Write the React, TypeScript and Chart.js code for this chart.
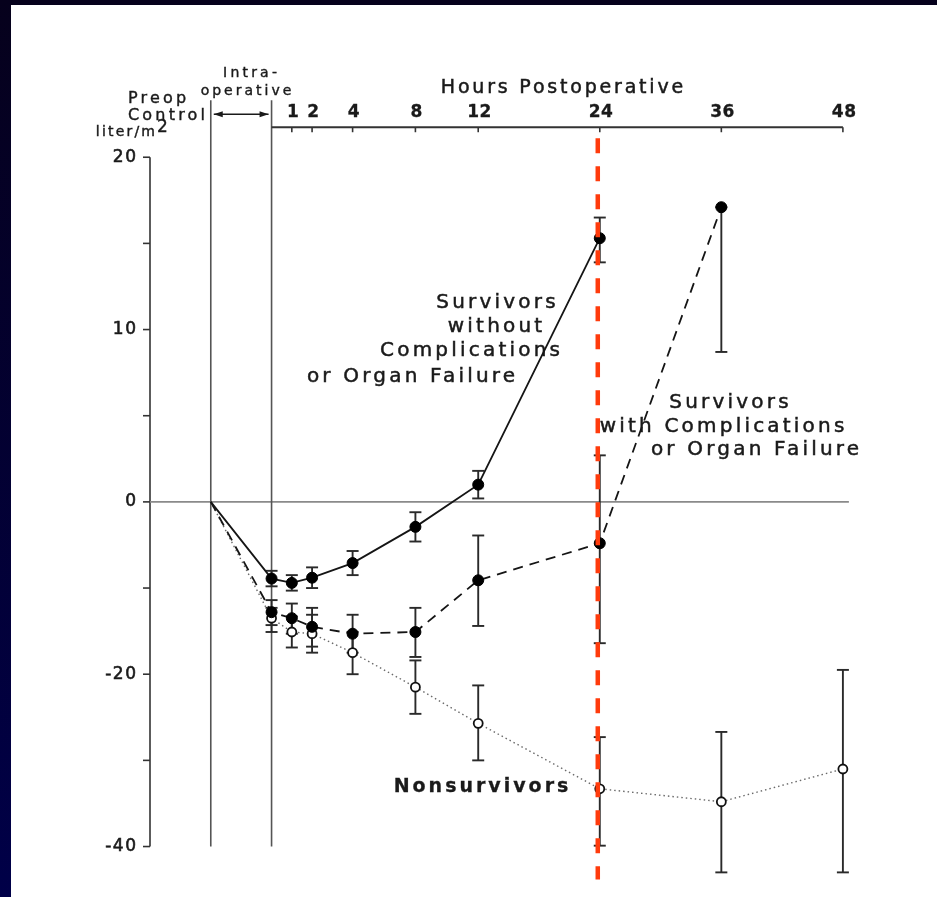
import React, { useEffect, useRef } from 'react';
import { Chart, registerables, LinearScale } from 'chart.js';

// ---------------- data ----------------
const TIME_LABELS = ['Preop Control', 'End of operation', '1', '2', '4', '8', '12', '24', '36', '48'];
const HOURS = [-3, 0, 1, 2, 4, 8, 12, 24, 36, 48];

const SURV_NO_COMP = [0, -8.9, -9.4, -8.8, -7.1, -2.9, 1.0, 15.3];
const SURV_NO_COMP_LO = [null, -9.8, -10.3, -10.0, -8.5, -4.6, 0.2, 13.9];
const SURV_NO_COMP_HI = [null, -8.0, -8.5, -7.6, -5.7, -1.2, 1.8, 16.5];

const SURV_COMP = [0, -12.8, -13.5, -14.5, -15.3, -15.1, -9.1, -4.8, 17.1];
const SURV_COMP_LO = [null, -14.3, -15.3, -16.8, -17.5, -18.0, -14.4, -16.4, 8.7];
const SURV_COMP_HI = [null, -11.4, -11.8, -12.3, -13.1, -12.3, -3.9, 2.7, 17.1];

const NONSURV = [0, -13.5, -15.1, -15.3, -17.5, -21.5, -25.7, -33.3, -34.8, -31.0];
const NONSURV_LO = [null, -15.1, -16.9, -17.5, -20.0, -24.6, -30.0, -39.9, -43.0, -43.0];
const NONSURV_HI = [null, -12.3, -13.3, -13.1, -15.1, -18.4, -21.3, -27.3, -26.7, -19.5];

const POST_TICKS = [1, 2, 4, 8, 12, 24, 36, 48];
const Y_TICKS = [20, 15, 10, 5, 0, -10, -20, -30, -40];
const Y_LABELS = [20, 10, 0, -20, -40];
const MARK_HOUR = 24;

// ---------------- warped axes (as in the original figure) ----------------
function warpX(h: number) {
  if (h <= 4) return h;
  if (h <= 12) return 4 + (h - 4) * 0.775;
  return 10.2 + (h - 12) * 0.5;
}
function unwarpX(u: number) {
  if (u <= 4) return u;
  if (u <= 10.2) return 4 + (u - 4) / 0.775;
  return 12 + (u - 10.2) / 0.5;
}
function warpY(v: number) { return v >= 0 ? v : v / 2; }
function unwarpY(u: number) { return u >= 0 ? u : u * 2; }

class WarpScale extends LinearScale {
  static id = 'warp';
  static defaults = { ticks: { callback: (v: any) => String(v) } };
  _w(v: number) { return (this as any).axis === 'x' ? warpX(v) : warpY(v); }
  _u(u: number) { return (this as any).axis === 'x' ? unwarpX(u) : unwarpY(u); }
  getPixelForValue(value: number) {
    if (value === null || value === undefined || Number.isNaN(value)) return NaN;
    const a = this._w(this.min), b = this._w(this.max);
    return this.getPixelForDecimal((this._w(value) - a) / (b - a));
  }
  getValueForPixel(pixel: number) {
    const a = this._w(this.min), b = this._w(this.max);
    return this._u(a + this.getDecimalForPixel(pixel) * (b - a));
  }
}

Chart.register(...registerables, WarpScale as any);

const FONT = '"DejaVu Sans", sans-serif';
const INK = '#1a1a1a';

function txt(ctx: CanvasRenderingContext2D, s: string, x: number, y: number, font: string,
  align: CanvasTextAlign = 'center', spacing = 0, weight = 0.5, color = INK) {
  ctx.save();
  ctx.font = font;
  ctx.fillStyle = color;
  ctx.strokeStyle = color;
  ctx.lineWidth = weight;
  ctx.textAlign = align;
  ctx.textBaseline = 'middle';
  (ctx as any).letterSpacing = spacing + 'px';
  let dx = 0;
  if (align === 'center') dx = spacing / 2;
  else if (align === 'right') dx = spacing;
  ctx.fillText(s, x + dx, y);
  if (weight > 0) ctx.strokeText(s, x + dx, y);
  ctx.restore();
}

function line(ctx: CanvasRenderingContext2D, x1: number, y1: number, x2: number, y2: number,
  color: string, width: number, dash: number[] = []) {
  ctx.save();
  ctx.strokeStyle = color;
  ctx.lineWidth = width;
  ctx.setLineDash(dash);
  ctx.beginPath();
  ctx.moveTo(x1, y1);
  ctx.lineTo(x2, y2);
  ctx.stroke();
  ctx.restore();
}

function arrowHead(ctx: CanvasRenderingContext2D, x: number, y: number, dir: number) {
  ctx.save();
  ctx.fillStyle = INK;
  ctx.beginPath();
  ctx.moveTo(x, y);
  ctx.lineTo(x - dir * 9, y - 3);
  ctx.lineTo(x - dir * 9, y + 3);
  ctx.closePath();
  ctx.fill();
  ctx.restore();
}

const ERR_SETS = [
  { lo: SURV_NO_COMP_LO, hi: SURV_NO_COMP_HI },
  { lo: SURV_COMP_LO, hi: SURV_COMP_HI },
  { lo: NONSURV_LO, hi: NONSURV_HI },
];

const figurePlugin = {
  id: 'figure',
  beforeDraw(chart: any) {
    const ctx: CanvasRenderingContext2D = chart.ctx;
    const g = ctx.createLinearGradient(0, 0, 0, chart.height);
    g.addColorStop(0, '#06011c');
    g.addColorStop(1, '#000048');
    ctx.save();
    ctx.fillStyle = g;
    ctx.fillRect(0, 0, chart.width, chart.height);
    ctx.fillStyle = '#ffffff';
    ctx.fillRect(11, 5, chart.width - 11, chart.height - 5);
    ctx.restore();
  },
  beforeDatasetsDraw(chart: any) {
    const ctx: CanvasRenderingContext2D = chart.ctx;
    const xs = chart.scales.x, ys = chart.scales.y;
    const X = (h: number) => xs.getPixelForValue(h);
    const Y = (v: number) => ys.getPixelForValue(v);
    const left = chart.chartArea.left;
    const yTop = Y(20), yBot = Y(-40);
    const axisTop = yTop - 30;
    const frameTop = axisTop - 27;

    // y axis
    line(ctx, left, yTop, left, yBot, '#333', 1.6);
    Y_TICKS.forEach(v => line(ctx, left - 7, Y(v), left, Y(v), '#333', 1.6));
    Y_LABELS.forEach(v => txt(ctx, String(v), left - 14, Y(v), `17px ${FONT}`, 'right', 1.5, 0.6));
    txt(ctx, 'liter/m', 155, yTop - 25, `14px ${FONT}`, 'right', 2.2, 0.4);
    txt(ctx, '2', 157, yTop - 30, `17px ${FONT}`, 'left', 0, 0.4);

    // zero line
    line(ctx, left, Y(0), X(48) + 6, Y(0), '#8a8a8a', 1.6);

    // preop / intra-operative frame lines
    line(ctx, X(HOURS[0]), frameTop, X(HOURS[0]), yBot, '#555', 1.6);
    line(ctx, X(HOURS[1]), frameTop, X(HOURS[1]), yBot, '#555', 1.6);

    // double arrow (intra-operative period)
    const ay = axisTop - 13;
    line(ctx, X(HOURS[0]) + 3, ay, X(HOURS[1]) - 3, ay, INK, 1.4);
    arrowHead(ctx, X(HOURS[0]) + 3, ay, -1);
    arrowHead(ctx, X(HOURS[1]) - 3, ay, 1);

    // top (hours postoperative) axis
    line(ctx, X(0), axisTop, X(48), axisTop, '#333', 1.8);
    POST_TICKS.forEach(h => {
      line(ctx, X(h), axisTop, X(h), axisTop + 5, '#333', 1.6);
      txt(ctx, String(h), X(h) + 1, axisTop - 15, `bold 17px ${FONT}`, 'center', 0.5, 0.3);
    });
    txt(ctx, 'Hours Postoperative', 562, axisTop - 39, `19px ${FONT}`, 'center', 2.8);
    txt(ctx, 'Intra-', 250, axisTop - 54, `14px ${FONT}`, 'center', 3.2, 0.4);
    txt(ctx, 'operative', 246, axisTop - 36, `14px ${FONT}`, 'center', 3.0, 0.4);
    txt(ctx, 'Preop', 128, axisTop - 28, `16px ${FONT}`, 'left', 3.2, 0.4);
    txt(ctx, 'Control', 128, axisTop - 11, `16px ${FONT}`, 'left', 3.2, 0.4);

    // series annotations
    const f = `20px ${FONT}`;
    txt(ctx, 'Survivors', 496, 303, f, 'center', 3.2);
    txt(ctx, 'without', 495, 327, f, 'center', 3.2);
    txt(ctx, 'Complications', 470, 351, f, 'center', 3.2);
    txt(ctx, 'or Organ Failure', 411, 377, f, 'center', 3.2);
    txt(ctx, 'Survivors', 729, 403, f, 'center', 3.2);
    txt(ctx, 'with Complications', 722, 427, f, 'center', 3.2);
    txt(ctx, 'or Organ Failure', 755, 450, f, 'center', 3.2);
    txt(ctx, 'Nonsurvivors', 481, 787, `bold 19px ${FONT}`, 'center', 3, 0.3);

    // error bars
    ERR_SETS.forEach(s => {
      s.lo.forEach((lo, i) => {
        const hi = s.hi[i];
        if (lo === null || hi === null) return;
        const x = X(HOURS[i]);
        const y1 = Y(lo as number), y2 = Y(hi as number);
        line(ctx, x, y1, x, y2, '#2a2a2a', 1.9);
        line(ctx, x - 6, y1, x + 6, y1, '#2a2a2a', 1.9);
        line(ctx, x - 6, y2, x + 6, y2, '#2a2a2a', 1.9);
      });
    });
  },
  afterDatasetsDraw(chart: any) {
    const ctx: CanvasRenderingContext2D = chart.ctx;
    const xs = chart.scales.x, ys = chart.scales.y;
    const x = xs.getPixelForValue(MARK_HOUR) - 2;
    line(ctx, x, ys.getPixelForValue(20) - 19, x, ys.getPixelForValue(-40) + 33, '#ff3b0c', 4.5, [15, 13]);
  },
};

const pts = (vals: number[]) => vals.map((v, i) => ({ x: HOURS[i], y: v }));
const radii = (vals: number[], r: number) => vals.map((_, i) => (i === 0 ? 0 : r));

export default function App() {
  const ref = useRef<HTMLCanvasElement | null>(null);
  useEffect(() => {
    if (!ref.current) return;
    const chart = new Chart(ref.current, {
      type: 'line',
      data: {
        labels: TIME_LABELS,
        datasets: [
          {
            label: 'Survivors without Complications or Organ Failure',
            data: pts(SURV_NO_COMP),
            borderColor: '#151515',
            borderWidth: 1.8,
            pointRadius: radii(SURV_NO_COMP, 5.5),
            pointBackgroundColor: '#000',
            pointBorderColor: '#000',
            pointBorderWidth: 1,
            tension: 0,
            fill: false,
            clip: false,
          } as any,
          {
            label: 'Survivors with Complications or Organ Failure',
            data: pts(SURV_COMP),
            borderColor: '#151515',
            borderWidth: 1.8,
            borderDash: [10, 7],
            pointRadius: radii(SURV_COMP, 5.5),
            pointBackgroundColor: '#000',
            pointBorderColor: '#000',
            pointBorderWidth: 1,
            tension: 0,
            fill: false,
            clip: false,
          } as any,
          {
            label: 'Nonsurvivors',
            data: pts(NONSURV),
            borderColor: '#6a6a6a',
            borderWidth: 1.4,
            borderDash: [1.5, 3],
            pointRadius: radii(NONSURV, 4.5),
            pointBackgroundColor: '#fff',
            pointBorderColor: '#111',
            pointBorderWidth: 1.8,
            tension: 0,
            fill: false,
            clip: false,
          } as any,
        ],
      },
      options: {
        responsive: false,
        animation: false,
        devicePixelRatio: 1,
        events: [],
        layout: { padding: { left: 150, right: 86, top: 140, bottom: 16 } },
        scales: {
          x: { type: 'warp' as any, min: -6, max: 48.8, display: false },
          y: { type: 'warp' as any, min: -44, max: 21, display: false },
        },
        plugins: { legend: { display: false }, tooltip: { enabled: false } },
      },
      plugins: [figurePlugin],
    });
    return () => chart.destroy();
  }, []);

  return (
    <div style={{ position: 'fixed', left: 0, top: 0, width: 937, height: 897 }}>
      <canvas ref={ref} width={937} height={897} style={{ display: 'block' }} />
    </div>
  );
}
